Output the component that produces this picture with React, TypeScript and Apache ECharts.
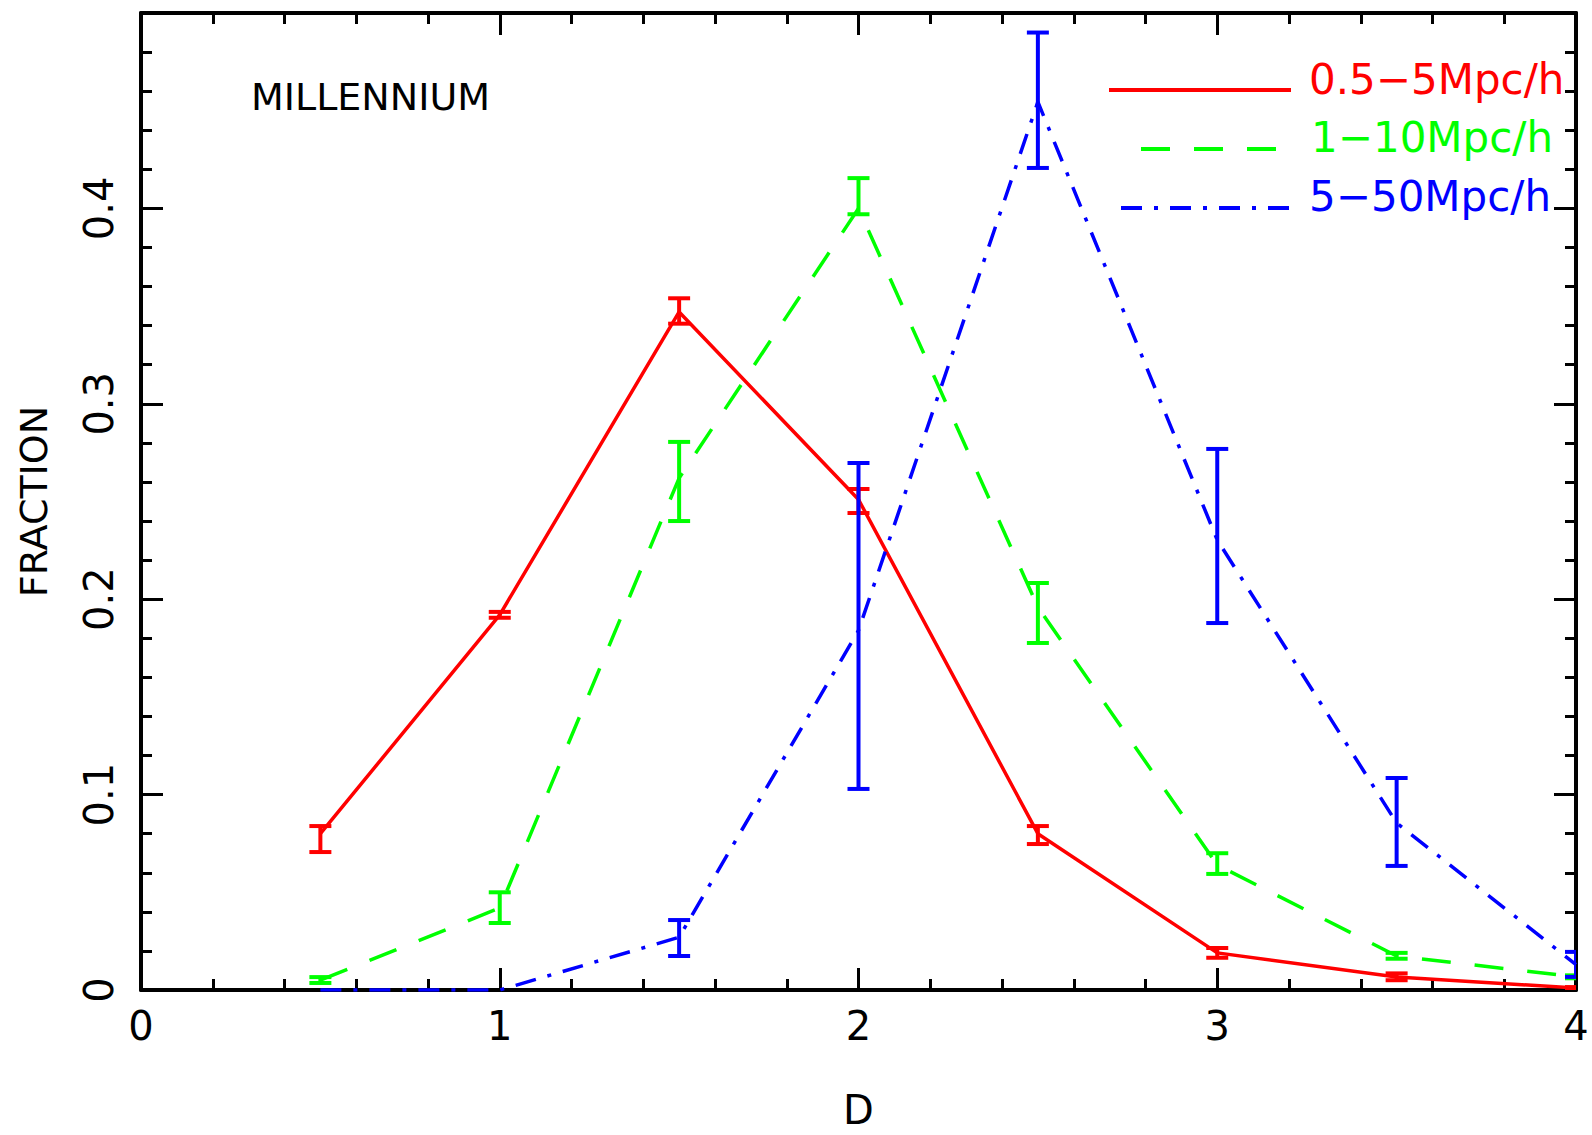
import React, { useEffect, useRef } from "react";
import * as echarts from "echarts";

// ---- data ----
const dValues = [0.5, 1, 1.5, 2, 2.5, 3, 3.5, 4];
const seriesNames = ["0.5\u22125Mpc/h", "1\u221210Mpc/h", "5\u221250Mpc/h"];
const seriesColors = ["#ff0000", "#00ff00", "#0000ff"];

const redFrac = [0.08, 0.192, 0.347, 0.251, 0.08, 0.019, 0.0067, 0.001];
const redLow = [0.0706, 0.1905, 0.341, 0.2441, 0.0747, 0.0165, 0.005, 0.0005];
const redHigh = [0.0839, 0.1935, 0.354, 0.2564, 0.0839, 0.0215, 0.0085, 0.0015];

const greenFrac = [0.005, 0.042, 0.262, 0.4, 0.196, 0.064, 0.0174, 0.0067];
const greenLow = [0.0036, 0.0343, 0.24, 0.397, 0.1776, 0.0594, 0.016, 0.006];
const greenHigh = [0.0066, 0.05, 0.2805, 0.4155, 0.2083, 0.07, 0.019, 0.0075];

const blueFrac = [0, 0, 0.027, 0.184, 0.4545, 0.2303, 0.0855, 0.013];
const blueLow = [null, null, 0.0174, 0.1029, 0.4207, 0.1878, 0.0635, 0.0067];
const blueHigh = [null, null, 0.0358, 0.2697, 0.49, 0.2769, 0.1085, 0.0195];

const xTicks = [0, 1, 2, 3, 4];
const yTicks = [0, 0.1, 0.2, 0.3, 0.4];
const annotation = "MILLENNIUM";

const FONT = "DejaVu Sans";

function pairs(ys: number[]) {
  return dValues.map((x, i) => [x, ys[i]]);
}
function bars(lo: (number | null)[], hi: (number | null)[]) {
  const out: number[][] = [];
  dValues.forEach((x, i) => {
    const l = lo[i];
    const h = hi[i];
    if (l !== null && h !== null) out.push([x, l, h]);
  });
  return out;
}

function errorRender(color: string, width: number) {
  return (params: any, api: any) => {
    const x = api.value(0);
    const pLo = api.coord([x, api.value(1)]);
    const pHi = api.coord([x, api.value(2)]);
    const hw = 11;
    const style = { stroke: color, lineWidth: width, fill: "none" };
    return {
      type: "group",
      children: [
        { type: "line", shape: { x1: pLo[0], y1: pLo[1], x2: pHi[0], y2: pHi[1] }, style },
        { type: "line", shape: { x1: pLo[0] - hw, y1: pLo[1], x2: pLo[0] + hw, y2: pLo[1] }, style },
        { type: "line", shape: { x1: pHi[0] - hw, y1: pHi[1], x2: pHi[0] + hw, y2: pHi[1] }, style },
      ],
    };
  };
}

export default function App() {
  const ref = useRef<HTMLDivElement>(null);
  useEffect(() => {
    if (!ref.current) return;
    const chart = echarts.init(ref.current, undefined, { renderer: "svg" });

    const axisLine = { show: true, onZero: false, lineStyle: { color: "#000", width: 4 } };
    const tick = { show: true, inside: true, length: 22, lineStyle: { color: "#000", width: 3 } };
    const minor = { show: true, splitNumber: 5, length: 11, lineStyle: { color: "#000", width: 3 } };

    const lineDashes: any[] = [null, [29, 24], [21, 12, 4, 12]];
    const fracs = [redFrac, greenFrac, blueFrac];
    const lows = [redLow, greenLow, blueLow];
    const highs = [redHigh, greenHigh, blueHigh];

    const lineSeries = seriesNames.map((name, i) => ({
      name,
      type: "line",
      data: pairs(fracs[i]),
      symbol: "none",
      showSymbol: false,
      color: seriesColors[i],
      lineStyle: { color: seriesColors[i], width: 3.5, type: lineDashes[i] || "solid", cap: "butt" },
      z: 3,
    }));
    const errSeries = seriesNames.map((name, i) => ({
      name: "err" + i,
      type: "custom",
      data: bars(lows[i], highs[i]),
      encode: { x: 0, y: [1, 2] },
      renderItem: errorRender(seriesColors[i], 4),
      clip: true,
      z: 4,
    }));

    // legend drawn as graphic: sample line + label per series
    const legendLineX = [
      [1109, 1291],
      [1141, 1277],
      [1121, 1291],
    ];
    const legendLineY = [90, 149, 208];
    const legendTextX = [1309, 1311, 1309];
    const legendTextY = [79, 137, 196];
    const legendGraphics: any[] = [];
    seriesNames.forEach((name, i) => {
      legendGraphics.push({
        type: "line",
        shape: { x1: legendLineX[i][0], y1: legendLineY[i], x2: legendLineX[i][1], y2: legendLineY[i] },
        style: { stroke: seriesColors[i], lineWidth: 4, lineDash: lineDashes[i] || undefined },
      });
      legendGraphics.push({
        type: "text",
        x: legendTextX[i],
        y: legendTextY[i],
        style: {
          text: name,
          fontSize: 42,
          fontFamily: FONT,
          fill: seriesColors[i],
          textAlign: "left",
          textVerticalAlign: "middle",
          verticalAlign: "middle",
        },
      });
    });

    chart.setOption({
      animation: false,
      backgroundColor: "#ffffff",
      grid: { left: 141, right: 16, top: 13, bottom: 145, containLabel: false },
      xAxis: [
        {
          type: "value",
          min: xTicks[0],
          max: xTicks[xTicks.length - 1],
          interval: 1,
          position: "bottom",
          axisLine,
          axisTick: tick,
          minorTick: minor,
          splitLine: { show: false },
          minorSplitLine: { show: false },
          axisLabel: { show: true, color: "#000", fontSize: 40, fontFamily: FONT, margin: 16 },
          name: "D",
          nameLocation: "middle",
          nameGap: 100,
          nameTextStyle: { color: "#000", fontSize: 40, fontFamily: FONT },
        },
        {
          type: "value",
          min: xTicks[0],
          max: xTicks[xTicks.length - 1],
          interval: 1,
          position: "top",
          axisLine,
          axisTick: tick,
          minorTick: minor,
          splitLine: { show: false },
          minorSplitLine: { show: false },
          axisLabel: { show: false },
        },
      ],
      yAxis: [
        {
          type: "value",
          min: 0,
          max: 0.5,
          interval: 0.1,
          position: "left",
          axisLine,
          axisTick: tick,
          minorTick: minor,
          splitLine: { show: false },
          minorSplitLine: { show: false },
          axisLabel: {
            show: true,
            rotate: 90,
            color: "#000",
            fontSize: 40,
            fontFamily: FONT,
            margin: 22,
            formatter: (v: number) => {
              const hit = yTicks.find((t) => Math.abs(t - v) < 1e-9);
              if (hit === undefined) return "";
              return hit === 0 ? "0" : hit.toFixed(1);
            },
          },
          name: "FRACTION",
          nameLocation: "middle",
          nameGap: 88,
          nameRotate: 90,
          nameTextStyle: { color: "#000", fontSize: 38, fontFamily: FONT },
        },
        {
          type: "value",
          min: 0,
          max: 0.5,
          interval: 0.1,
          position: "right",
          axisLine,
          axisTick: tick,
          minorTick: minor,
          splitLine: { show: false },
          minorSplitLine: { show: false },
          axisLabel: { show: false },
        },
      ],
      graphic: [
        {
          type: "text",
          left: 251,
          top: 78,
          style: { text: annotation, fontSize: 38, fontFamily: FONT, fill: "#000" },
        },
        ...legendGraphics,
      ],
      series: [...lineSeries, ...errSeries],
    });

    return () => chart.dispose();
  }, []);

  return (
    <div
      ref={ref}
      style={{ position: "absolute", left: 0, top: 0, width: 1592, height: 1135, background: "#fff" }}
    />
  );
}
